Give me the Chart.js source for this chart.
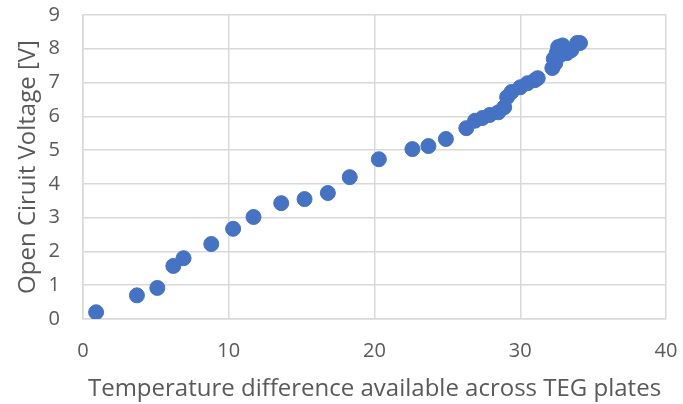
<!DOCTYPE html>
<html>
<head>
<meta charset="utf-8">
<script src="https://cdn.jsdelivr.net/npm/chart.js@4"></script>
<style>
  html, body { margin: 0; padding: 0; background: #fff; }
</style>
</head>
<body>
<canvas id="vocChart" width="683" height="404"></canvas>
<script>
// temperature difference (°C) and open circuit voltage (V)
const deltaT = [
  0.9, 3.7, 5.1, 6.2, 6.9, 8.8, 10.3, 11.7, 13.6, 15.2, 16.8, 18.3, 20.3,
  22.6, 23.7, 24.9, 26.3, 26.9, 27.4, 27.9, 28.5, 28.9, 29.1, 29.4, 30.0,
  30.5, 31.0, 31.2, 32.2, 32.4, 32.5, 32.6, 32.9, 33.2, 33.5, 33.9, 34.1,
  32.3, 32.7
];
const voltage = [
  0.2, 0.7, 0.92, 1.57, 1.8, 2.22, 2.67, 3.02, 3.43, 3.55, 3.73, 4.2, 4.73,
  5.03, 5.12, 5.33, 5.65, 5.87, 5.95, 6.04, 6.12, 6.27, 6.57, 6.72, 6.86,
  6.98, 7.07, 7.13, 7.43, 7.57, 7.87, 8.05, 8.1, 7.87, 7.96, 8.17, 8.17,
  7.7, 7.8
];
const xTicks = [0, 10, 20, 30, 40];
const yTicks = [0, 1, 2, 3, 4, 5, 6, 7, 8, 9];

const points = deltaT.map((x, i) => ({ x: x, y: voltage[i] }));
const textColor = '#595959';
const gridColor = '#d9d9d9';
const fontFamily = '"Open Sans", "Liberation Sans", sans-serif';

// fixed axis box, no extra label overflow padding
function fixAxis(size) {
  return (axis) => {
    if (axis.isHorizontal()) axis.height = size; else axis.width = size;
    axis.paddingTop = 0;
    axis.paddingBottom = 0;
    axis.paddingLeft = 0;
    axis.paddingRight = 0;
  };
}

new Chart(document.getElementById('vocChart'), {
  type: 'scatter',
  data: {
    datasets: [{
      data: points,
      backgroundColor: '#4472c4',
      borderColor: '#4472c4',
      pointRadius: 7.5,
      pointHoverRadius: 7.5
    }]
  },
  options: {
    responsive: false,
    animation: false,
    layout: { autoPadding: false, padding: { top: 15, right: 17, left: 0, bottom: 0 } },
    plugins: {
      legend: { display: false },
      tooltip: { enabled: false }
    },
    scales: {
      x: {
        type: 'linear',
        min: xTicks[0],
        max: xTicks[xTicks.length - 1],
        afterBuildTicks: (axis) => { axis.ticks = xTicks.map(v => ({ value: v })); },
        afterFit: fixAxis(85),
        grid: { color: gridColor, lineWidth: 1.5, drawTicks: false },
        border: { color: gridColor, width: 1.5 },
        ticks: { color: textColor, font: { family: fontFamily, size: 20 }, padding: 20 },
        title: {
          display: true,
          text: 'Temperature difference available across TEG plates',
          color: textColor,
          font: { family: fontFamily, size: 24 },
          padding: { bottom: 0 }
        }
      },
      y: {
        type: 'linear',
        min: yTicks[0],
        max: yTicks[yTicks.length - 1],
        afterBuildTicks: (axis) => { axis.ticks = yTicks.map(v => ({ value: v })); },
        afterFit: fixAxis(83),
        grid: { color: gridColor, lineWidth: 1.5, drawTicks: false },
        border: { color: gridColor, width: 1.5 },
        ticks: { color: textColor, font: { family: fontFamily, size: 20 }, padding: 23 },
        title: {
          display: true,
          text: 'Open Ciruit Voltage [V]',
          color: textColor,
          font: { family: fontFamily, size: 24 },
          padding: { top: 14 }
        }
      }
    }
  }
});
</script>
</body>
</html>
